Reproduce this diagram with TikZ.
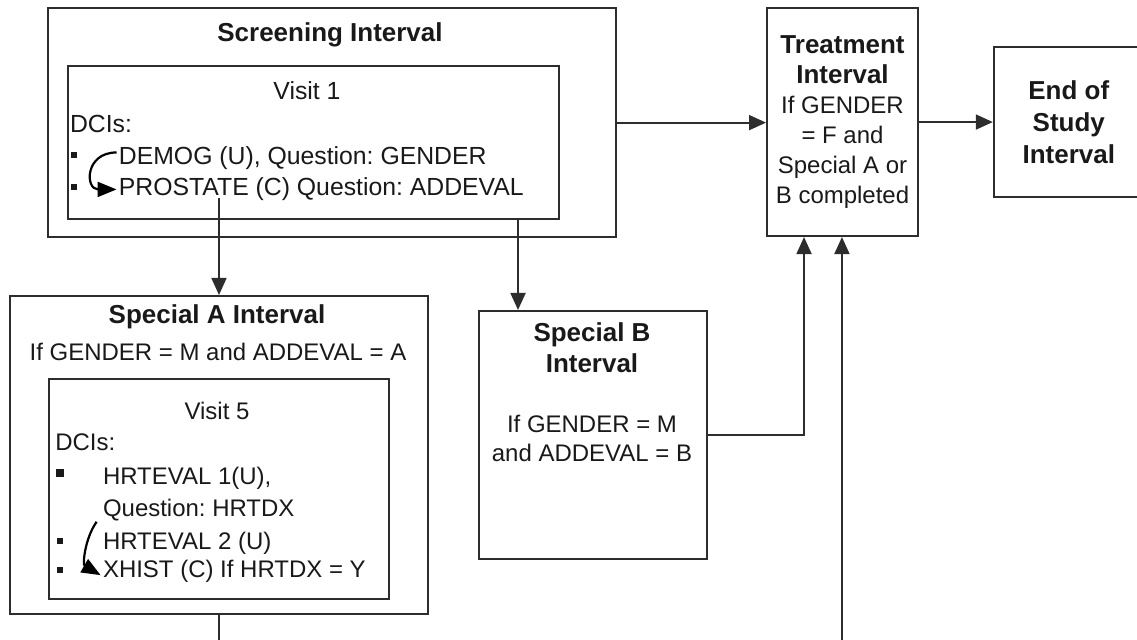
\documentclass[tikz,border=0pt]{standalone}
\usepackage{fontspec}
\setmainfont{Liberation Sans}
\usepackage{tikz}
\usetikzlibrary{arrows.meta,calc}
\frenchspacing
\definecolor{LineC}{RGB}{45,45,45}
\definecolor{TextC}{RGB}{25,25,25}
\newcommand{\hdg}[1]{{\fontsize{13}{15}\selectfont\bfseries #1}}
\tikzset{
  ibox/.style={rectangle,draw=LineC,line width=1pt,inner sep=0pt},
  ttl/.style={font=\fontsize{13}{15.5}\selectfont\bfseries,text=TextC,align=center},
  txt/.style={font=\fontsize{12}{15}\selectfont,text=TextC,align=center},
  item/.style={txt,anchor=west,inner sep=1pt},
  bul/.style={rectangle,fill=TextC,minimum size=2.8pt,inner sep=0pt},
  flow/.style={-{Triangle[length=8.5pt,width=7.5pt]},line width=0.9pt,LineC},
  curl/.style={-{Triangle[length=9.5pt,width=7.5pt]},line width=1.1pt,black},
}

\begin{document}
\begin{tikzpicture}
  \useasboundingbox (0,0) rectangle (20,11.257);
  % screening
  \node[ibox,minimum width=9.99cm,minimum height=4.03cm] (scr) at (5.84,9.10) {};
  \node[ttl] (scrT) at (5.805,10.642) {Screening Interval};
  \node[ibox,minimum width=8.637cm,minimum height=2.692cm] (v1) at (5.515,8.751) {};
  \node[txt,font=\fontsize{12.4}{15}\selectfont] (v1T) at (5.40,9.657) {Visit 1};
  \node[item,font=\fontsize{12.4}{15}\selectfont] (v1D) at (1.19,9.076) {DCIs:};
  \node[bul] (v1b1) at (1.302,8.531) {};
  \node[bul] (v1b2) at (1.302,7.968) {};
  \node[item,font=\fontsize{12.4}{15}\selectfont] (dm) at (2.05,8.47) {DEMOG (U), Question: GENDER};
  \node[item,font=\fontsize{12.4}{15}\selectfont] (pr) at (2.05,7.925) {PROSTATE (C) Question: ADDEVAL};
  \draw[curl] ([yshift=3pt]dm.west) to[out=180,in=180,looseness=2.2] (pr.west);
  % treatment, end
  \node[ibox,txt,minimum width=2.656cm,minimum height=4.01cm] (tr) at (14.82,9.11)
    {\hdg{Treatment}\\\hdg{Interval}\\If GENDER\\= F and\\Special A or\\B completed};
  \node[ibox,txt,font=\fontsize{13}{16}\selectfont\bfseries,
        minimum width=2.638cm,minimum height=2.638cm] (eos) at (18.80,9.11)
    {End of\\Study\\Interval};
  \draw[flow] (scr.east) -- (scr.east -| tr.west);
  \draw[flow] (tr.east) -- (eos.west);
  % special A
  \node[ibox,minimum width=7.353cm,minimum height=5.594cm] (spA) at (3.852,3.254) {};
  \node[ttl] (spAT) at (3.817,5.682) {Special A Interval};
  \node[txt] (spAC) at (3.835,5.06) {If GENDER = M and ADDEVAL = A};
  \node[ibox,minimum width=5.981cm,minimum height=3.870cm] (v5) at (3.852,2.656) {};
  \node[txt] (v5T) at (3.817,4.028) {Visit 5};
  \node[item] (v5D) at (0.93,3.483) {DCIs:};
  \node[bul,minimum size=3.8pt] (v5b1) at (1.055,2.938) {};
  \node[bul] (v5b2) at (1.055,1.741) {};
  \node[bul] (v5b3) at (1.055,1.231) {};
  \node[item] (hr1) at (1.77,2.85) {HRTEVAL 1(U),};
  \node[item] (hrq) at (1.77,2.287) {Question: HRTDX};
  \node[item] (hr2) at (1.77,1.70) {HRTEVAL 2 (U)};
  \node[item] (xh) at (1.77,1.21) {XHIST (C) If HRTDX = Y};
  \draw[curl] ([xshift=-2pt,yshift=4pt]hr2.north west) to[out=235,in=150] ([yshift=-2pt]xh.west);
  % special B
  \node[ibox,minimum width=4.01cm,minimum height=4.362cm] (spB) at (10.431,3.606) {};
  \node[ttl] (spBT) at (10.413,5.145) {Special B\\Interval};
  \node[txt,font=\fontsize{12}{14.5}\selectfont] (spBC) at (10.413,3.55) {If GENDER = M\\and ADDEVAL = B};
  % links
  \coordinate (a1) at (3.852,7.775);
  \coordinate (b1) at (9.112,7.405);
  \coordinate (lowA) at (3.852,-0.3);
  \coordinate (lowT) at (14.81,-0.3);
  \draw[flow] (a1) -- (spA.north);
  \draw[flow] (b1) -- (b1 |- spB.north);
  \draw[flow] (spB.east) -| ([xshift=-0.677cm]tr.south);
  \draw[flow] (lowT) -- (lowT |- tr.south);
  \draw[line width=0.9pt,LineC] (spA.south) -- (lowA);
\end{tikzpicture}
\end{document}
